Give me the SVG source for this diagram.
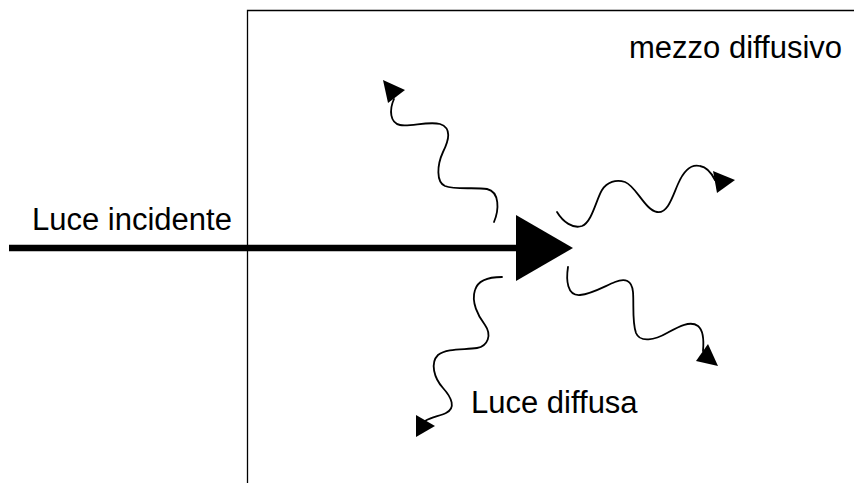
<svg xmlns="http://www.w3.org/2000/svg" width="854" height="483" viewBox="0 0 854 483">
<style>
.lbl{font-family:"Liberation Sans",Arial,sans-serif;font-size:31px;fill:#000}
.wave{fill:none;stroke:#000;stroke-width:1.8;stroke-linecap:round}
.head{fill:#000}
</style>
<rect width="854" height="483" fill="#fff"/>
<g id="medium">
<path d="M854,10.5 H247.5 V483" fill="none" stroke="#000" stroke-width="1.3"/>
<text class="lbl" x="629" y="58">mezzo diffusivo</text>
</g>
<g id="incident">
<text class="lbl" x="32" y="230">Luce incidente</text>
</g>
<g id="diffused-label">
<text class="lbl" x="471" y="413">Luce diffusa</text>
</g>
<g id="connectors">
<g id="incident-ray">
<line x1="9" y1="248" x2="520" y2="248" stroke="#000" stroke-width="6.5"/>
<polygon class="head" points="516,215 573,248 516,281"/>
</g>
<g id="wave-up">
<path class="wave" d="M494,222 C499,210 500,192 487,189 C475,187 455,190 445,186 C436,182 437,165 443,152 C449,140 452,128 440,124 C428,121 410,127 400,125 C390,123 389,110 394,99"/>
<polygon class="head" points="383,80 405,90 388,103"/>
</g>
<g id="wave-right">
<path class="wave" d="M557,212 C563,222 573,229 582,226 C592,222 596,200 602,190 C607,182 616,179 625,182 C636,186 645,210 657,212 C668,214 673,195 678,184 C684,170 692,164 700,166 C706,167 711,172 715,180"/>
<polygon class="head" points="713,171 735,180 717,193"/>
</g>
<g id="wave-down-right">
<path class="wave" d="M568,267 C566,280 567,296 580,295 C592,294 605,286 615,282 C625,278 632,280 633,292 C634,305 632,322 636,333 C640,343 655,340 667,333 C678,327 690,320 698,326 C703,330 704,340 703,351"/>
<polygon class="head" points="696,361 708,344 718,366"/>
</g>
<g id="wave-down-left">
<path class="wave" d="M502,277 C490,277 478,280 475,290 C471,302 478,316 485,325 C492,335 488,346 477,348 C465,350 447,348 438,355 C430,363 434,378 443,388 C452,398 456,408 446,413 C440,416 432,417 425,421"/>
<polygon class="head" points="416,415 435,426 416,437"/>
</g>
</g>
</svg>
